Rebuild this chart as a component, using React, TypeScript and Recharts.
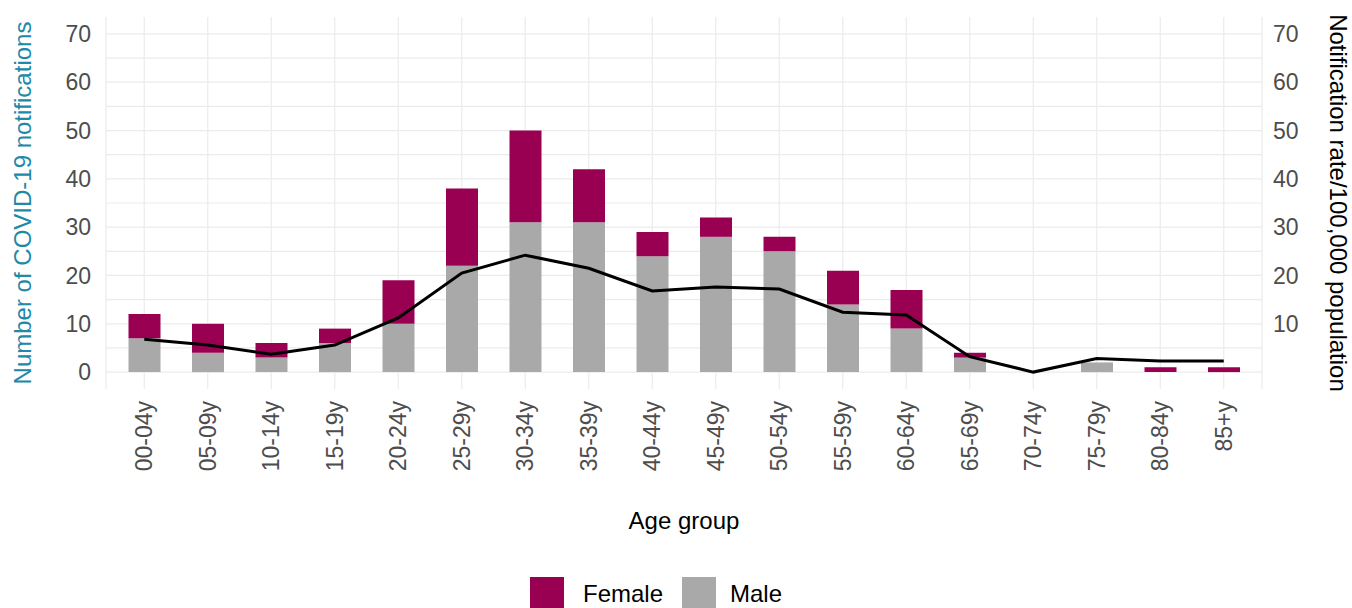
import {
  ComposedChart, Bar, Line, XAxis, YAxis, CartesianGrid, Legend,
} from 'recharts'

const AGE_GROUPS = [
  '00-04y', '05-09y', '10-14y', '15-19y', '20-24y', '25-29y', '30-34y', '35-39y', '40-44y',
  '45-49y', '50-54y', '55-59y', '60-64y', '65-69y', '70-74y', '75-79y', '80-84y', '85+y',
]
const MALE = [7, 4, 3, 6, 10, 22, 31, 31, 24, 28, 25, 14, 9, 3, 0, 2, 0, 0]
const FEMALE = [5, 6, 3, 3, 9, 16, 19, 11, 5, 4, 3, 7, 8, 1, 0, 0, 1, 1]
const RATE = [6.8, 5.6, 3.7, 5.6, 11.2, 20.5, 24.2, 21.5, 16.8, 17.6, 17.2, 12.4, 11.8, 3.2, 0, 2.8, 2.3, 2.3]

const LEFT_TICKS = [0, 10, 20, 30, 40, 50, 60, 70]
const RIGHT_TICKS = [10, 20, 30, 40, 50, 60, 70]
const GRID_VALUES = [0, 5, 10, 15, 20, 25, 30, 35, 40, 45, 50, 55, 60, 65, 70]

const FEMALE_COLOR = '#990052'
const MALE_COLOR = '#A9A9A9'
const GRID = '#EBEBEB'
const TICK = '#4D4D4D'
const FONT = '"Liberation Sans", Arial, sans-serif'

const data = AGE_GROUPS.map((age, i) => ({
  age,
  male: MALE[i],
  female: FEMALE[i],
  rate: RATE[i],
}))

// rotated x tick, reads bottom to top
const AgeTick = ({ x, y, payload }: any) => (
  <text
    x={x} y={y} dy="0.35em"
    transform={`rotate(-90, ${x}, ${y})`}
    textAnchor="end" fill={TICK} fontSize={23} fontFamily={FONT}
  >
    {payload.value}
  </text>
)

const LegendBox = () => (
  <div style={{ height: 40, overflow: 'hidden', position: 'relative', fontFamily: FONT }}>
    <div style={{ display: 'flex', alignItems: 'center', marginLeft: 530, paddingTop: 9 }}>
      <div style={{ width: 34, height: 34, background: FEMALE_COLOR }} />
      <span style={{ fontSize: 24, color: '#000', marginLeft: 19, marginRight: 19 }}>Female</span>
      <div style={{ width: 34, height: 34, background: MALE_COLOR }} />
      <span style={{ fontSize: 24, color: '#000', marginLeft: 14 }}>Male</span>
    </div>
  </div>
)

export default function App() {
  return (
    <div style={{ position: 'absolute', left: 0, top: 0, fontFamily: FONT, background: '#fff' }}>
      <ComposedChart
        width={1352} height={608} data={data}
        margin={{ top: 17, right: 0, bottom: 0, left: 0 }}
      >
        <CartesianGrid
          yAxisId="left" stroke={GRID} strokeWidth={1.2}
          horizontalValues={GRID_VALUES}
        />
        <XAxis
          dataKey="age" height={179} tickSize={0} tickMargin={12}
          axisLine={false} tickLine={false} interval={0}
          padding={{ left: 6.5, right: 6.5 }}
          tick={<AgeTick />}
          label={{ value: 'Age group', position: 'insideBottom', offset: 39, fill: '#000', fontSize: 24, fontFamily: FONT }}
        />
        <YAxis
          yAxisId="left" width={106} domain={[-3.5, 73.5]} ticks={LEFT_TICKS}
          tickSize={0} tickMargin={15} axisLine={false} tickLine={false}
          tick={{ fill: TICK, fontSize: 23, fontFamily: FONT }}
          label={{
            value: 'Number of COVID-19 notifications', angle: -90, position: 'insideLeft', offset: 22,
            fill: '#2188A8', fontSize: 24, fontFamily: FONT, style: { textAnchor: 'middle' },
          }}
        />
        <YAxis
          yAxisId="right" orientation="right" width={90} domain={[-3.5, 73.5]} ticks={RIGHT_TICKS}
          tickSize={0} tickMargin={11} axisLine={false} tickLine={false}
          tick={{ fill: TICK, fontSize: 23, fontFamily: FONT, textAnchor: 'start' }}
          label={{
            value: 'Notification rate/100,000 population', angle: 90, position: 'insideRight', offset: 13,
            fill: '#000', fontSize: 24, fontFamily: FONT, style: { textAnchor: 'middle' },
          }}
        />
        <Legend verticalAlign="bottom" content={<LegendBox />} />
        <Bar yAxisId="left" dataKey="male" name="Male" stackId="sex" fill={MALE_COLOR} barSize={32} isAnimationActive={false} />
        <Bar yAxisId="left" dataKey="female" name="Female" stackId="sex" fill={FEMALE_COLOR} barSize={32} isAnimationActive={false} />
        <Line
          yAxisId="right" type="linear" dataKey="rate" stroke="#000" strokeWidth={3}
          dot={false} activeDot={false} isAnimationActive={false}
        />
      </ComposedChart>
    </div>
  )
}
